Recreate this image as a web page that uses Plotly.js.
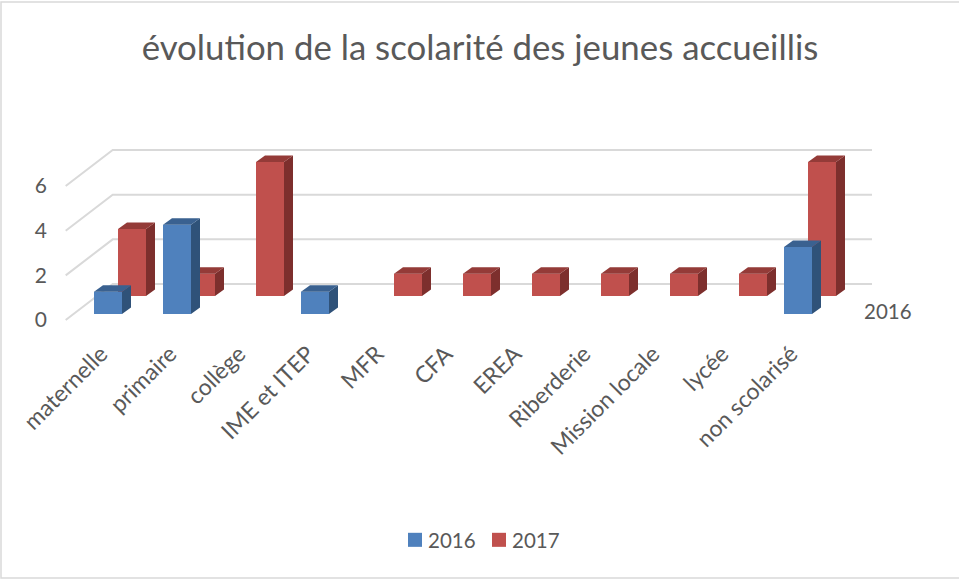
<!DOCTYPE html>
<html><head><meta charset="utf-8">
<script src="https://cdn.plot.ly/plotly-3.0.1.min.js"></script>
<style>html,body{margin:0;padding:0;background:#fff}#gd{width:959px;height:580px}
text{font-variant-ligatures:none}</style>
</head><body><div id="gd"></div>
<script>
const categories = ["maternelle","primaire","collège","IME et ITEP","MFR","CFA","EREA","Riberderie","Mission locale","lycée","non scolarisé"];
const values2016 = [1,4,0,1,0,0,0,0,0,0,3];
const values2017 = [3,1,6,0,1,1,1,1,1,1,6];
const yTicks = [0,2,4,6];
const titleText = "évolution de la scolarité des jeunes accueillis";
const TEXT = "#595959", GRID = "#d9d9d9", FONT = "Lato, 'Open Sans', sans-serif";

// plot box in px, and px per data unit: only used to set the axis scales
const box = {l:48, r:900, t:60, b:335};
const pxX = 69, pxY = 22.33, x0px = 108, y0px = 320;
const xr = [(box.l-x0px)/pxX, (box.r-x0px)/pxX];
const yr = [(y0px-box.b)/pxY, (y0px-box.t)/pxY];
const W = 959, H = 580;

// pseudo-3D projection, in data units
const barW = 28/pxX, dx = 9/pxX, dy = 6.5/pxY;
const s2016 = {name:"2016", vals:values2016, xo:0, base:6/pxY, front:"#4f81bd", side:"#2f5279", top:"#3a6190", xa:"x3", ya:"y3"};
const s2017 = {name:"2017", vals:values2017, xo:24/pxX, base:24/pxY, front:"#c0504d", side:"#7d2f2d", top:"#943b38", xa:"x2", ya:"y2"};
const idx = categories.map((_,i)=>i);

function faces(s){
  const sx=[],sy=[],tx=[],ty=[];
  s.vals.forEach((v,i)=>{
    if(!v) return;
    const L=i+s.xo-barW/2, R=i+s.xo+barW/2, B=s.base, T=s.base+v;
    sx.push(R,R+dx,R+dx,R,R,null); sy.push(B,B+dy,T+dy,T,B,null);
    tx.push(L,L+dx,R+dx,R,L,null); ty.push(T,T+dy,T+dy,T,T,null);
  });
  const poly=(x,y,c)=>({type:"scatter",mode:"lines",x,y,fill:"toself",fillcolor:c,line:{width:0,color:c},
    xaxis:s.xa,yaxis:s.ya,showlegend:false,hoverinfo:"skip"});
  return [poly(sx,sy,s.side),poly(tx,ty,s.top)];
}
function bar(s){
  return {type:"bar",name:s.name,x:idx.map(i=>i+s.xo),y:s.vals.map(v=>v||null),base:s.base,width:barW,
    marker:{color:s.front,line:{width:0}},xaxis:s.xa,yaxis:s.ya};
}
// walls: back gridlines and the diagonal side-wall lines
const wallDx = 47/pxX, wallDy = 36/pxY, wallL = (65.7-x0px)/pxX, wallR = (872-x0px)/pxX;
const wx=[],wy=[];
yTicks.forEach(t=>{ wx.push(wallL,wallL+wallDx,wallR,null); wy.push(t,t+wallDy,t+wallDy,null); });
const walls = {type:"scatter",mode:"lines",x:wx,y:wy,line:{color:GRID,width:2},showlegend:false,hoverinfo:"skip",xaxis:"x",yaxis:"y"};

const data = [walls, bar(s2016), ...faces(s2016), bar(s2017), ...faces(s2017)];
const px2paperX = p => (p-box.l)/(box.r-box.l), px2paperY = p => (box.b-p)/(box.b-box.t);

const layout = {
  width:W, height:H, margin:{l:box.l,r:W-box.r,t:box.t,b:H-box.b,pad:0},
  paper_bgcolor:"#fff", plot_bgcolor:"rgba(0,0,0,0)", barmode:"overlay", showlegend:true,
  font:{family:FONT,color:TEXT,size:20},
  title:{text:titleText,font:{family:FONT,size:34.8,color:TEXT},x:480/W,xanchor:"center",y:1-48/H,yanchor:"middle"},
  xaxis:{range:xr,tickmode:"array",tickvals:idx,ticktext:categories,tickangle:-45,showgrid:false,zeroline:false,showline:false,ticks:"",tickfont:{size:23,color:TEXT},ticklabelshift:-7,fixedrange:true},
  yaxis:{range:yr,tickmode:"array",tickvals:yTicks,ticktext:yTicks.map(String),showgrid:false,zeroline:false,showline:false,ticks:"",tickfont:{size:21,color:TEXT},fixedrange:true},
  xaxis2:{range:xr,overlaying:"x",visible:false,fixedrange:true},
  yaxis2:{range:yr,overlaying:"y",visible:false,fixedrange:true},
  xaxis3:{range:xr,overlaying:"x",visible:false,fixedrange:true},
  yaxis3:{range:yr,overlaying:"y",visible:false,fixedrange:true},
  legend:{orientation:"h",x:px2paperX(388),xanchor:"left",y:px2paperY(540),yanchor:"middle",font:{size:20.5,color:TEXT},bgcolor:"rgba(0,0,0,0)",entrywidth:39,entrywidthmode:"pixels"},
  annotations:[{text:"2016",xref:"x",yref:"y",x:(888-x0px)/pxX,y:(y0px-311)/pxY,showarrow:false,font:{size:20.5,color:TEXT}}],
  shapes:[{type:"rect",xref:"paper",yref:"paper",x0:px2paperX(1),x1:px2paperX(970),y0:px2paperY(578),y1:px2paperY(2),line:{color:GRID,width:1.5},fillcolor:"rgba(0,0,0,0)",layer:"below"}]
};
Plotly.newPlot("gd",data,layout,{displayModeBar:false,responsive:false}).then(()=>{
  // tighten the legend swatches to the reference's size and text gap; keep the last label unclipped
  document.querySelectorAll(".legend .scrollbox").forEach(g=>{
    g.removeAttribute("clip-path"); g.style.clipPath="none";
  });
  document.querySelectorAll(".legend .legendsymbols").forEach(g=>{
    g.setAttribute("transform","translate(12,0)");
    g.querySelectorAll("path").forEach(p=>{p.setAttribute("transform","translate(15,0) scale(1.17)");});
  });
});
</script></body></html>
